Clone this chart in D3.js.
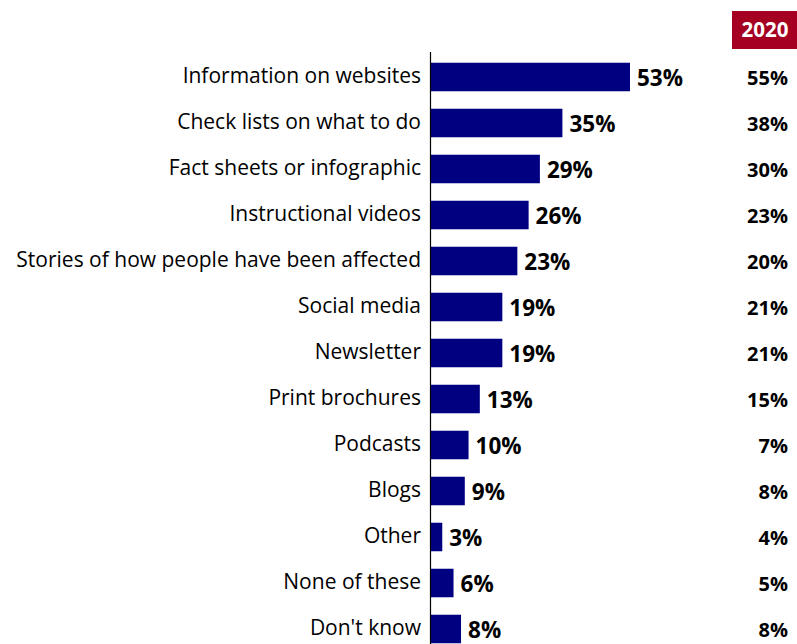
<!DOCTYPE html>
<html>
<head>
<meta charset="utf-8">
<script src="https://cdn.jsdelivr.net/npm/d3@7/dist/d3.min.js"></script>
<style>
  html, body { margin: 0; padding: 0; background: #fff; }
  svg { display: block; }
  text { font-family: "Open Sans", "Noto Sans", sans-serif; }
</style>
</head>
<body>
<svg id="chart" width="797" height="644"></svg>
<script>
// Preferred information formats, current wave vs 2020
const categories = [
  "Information on websites",
  "Check lists on what to do",
  "Fact sheets or infographic",
  "Instructional videos",
  "Stories of how people have been affected",
  "Social media",
  "Newsletter",
  "Print brochures",
  "Podcasts",
  "Blogs",
  "Other",
  "None of these",
  "Don't know"
];
const current = [53, 35, 29, 26, 23, 19, 19, 13, 10, 9, 3, 6, 8];
const prior2020 = [55, 38, 30, 23, 20, 21, 21, 15, 7, 8, 4, 5, 8];
const priorLabel = "2020";

const svg = d3.select("#chart");
const axisX = 431;

const x = d3.scaleLinear().domain([0, 53]).range([axisX, 630]);
const y = d3.scaleBand().domain(categories).range([54, 652]).paddingInner(0.38).paddingOuter(0.19);

// bars
svg.append("g").selectAll("rect")
  .data(categories)
  .join("rect")
  .attr("x", axisX)
  .attr("y", d => y(d))
  .attr("width", (d, i) => x(current[i]) - axisX)
  .attr("height", y.bandwidth())
  .attr("fill", "#000080");

// category axis line
svg.append("line")
  .attr("x1", axisX - 0.5).attr("x2", axisX - 0.5)
  .attr("y1", 52).attr("y2", 644)
  .attr("stroke", "#000").attr("stroke-width", 1.2);

// category labels
svg.append("g").selectAll("text")
  .data(categories)
  .join("text")
  .attr("x", 421)
  .attr("y", d => y(d) + y.bandwidth() / 2 - 1)
  .attr("dy", "0.35em")
  .attr("text-anchor", "end")
  .attr("font-size", 21)
  .attr("fill", "#000")
  .text(d => d);

// value labels
svg.append("g").selectAll("text")
  .data(categories)
  .join("text")
  .attr("x", (d, i) => x(current[i]) + 7)
  .attr("y", d => y(d) + y.bandwidth() / 2 + 1)
  .attr("dy", "0.35em")
  .attr("font-size", 22.5)
  .attr("font-weight", "bold")
  .attr("fill", "#000")
  .text((d, i) => current[i] + "%");

// 2020 column header
svg.append("rect")
  .attr("x", 732).attr("y", 11)
  .attr("width", 65).attr("height", 38)
  .attr("fill", "#A50021");
svg.append("text")
  .attr("x", 765).attr("y", 30)
  .attr("dy", "0.35em")
  .attr("text-anchor", "middle")
  .attr("font-size", 20.5)
  .attr("font-weight", "bold")
  .attr("fill", "#fff")
  .text(priorLabel);

// 2020 values
svg.append("g").selectAll("text")
  .data(categories)
  .join("text")
  .attr("x", 788)
  .attr("y", d => y(d) + y.bandwidth() / 2 + 0.5)
  .attr("dy", "0.35em")
  .attr("text-anchor", "end")
  .attr("font-size", 20)
  .attr("font-weight", "bold")
  .attr("fill", "#000")
  .text((d, i) => prior2020[i] + "%");
</script>
</body>
</html>
